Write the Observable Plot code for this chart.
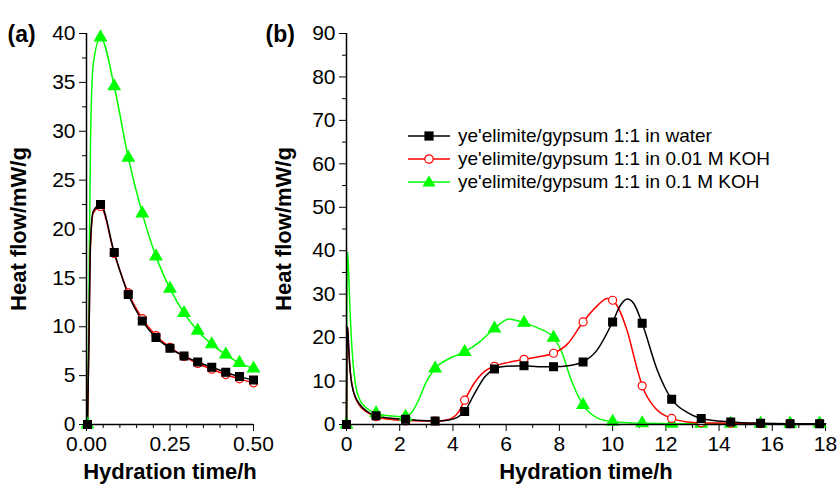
<!DOCTYPE html>
<html>
<head>
<meta charset="utf-8">
<script src="https://cdn.jsdelivr.net/npm/d3@7"></script>
<script src="https://cdn.jsdelivr.net/npm/@observablehq/plot@0.6"></script>
<style>
  html, body { margin: 0; padding: 0; background: #fff; }
  #wrap { position: relative; width: 837px; height: 492px; overflow: hidden; font-family: "Liberation Sans", Arial, sans-serif; }
  .panel { position: absolute; top: 0; }
  .panel svg { overflow: visible; }
  #legend { position: absolute; left: 408px; top: 124px; font-size: 19px; color: #000; }
  #legend .row { display: flex; align-items: center; height: 23.3px; white-space: nowrap; }
  #legend svg { overflow: visible; }
</style>
</head>
<body>
<div id="wrap">
  <div id="pa" class="panel" style="left:0px"></div>
  <div id="pb" class="panel" style="left:260px"></div>
  <div id="legend"></div>
</div>
<script>
// ---------- series names / colours ----------
const seriesNames = [
  "ye'elimite/gypsum 1:1 in water",
  "ye'elimite/gypsum 1:1 in 0.01 M KOH",
  "ye'elimite/gypsum 1:1 in 0.1 M KOH"
];
const seriesColors = ["#000000", "#ff0000", "#00ff00"];
const seriesSymbols = ["square", "circle", "triangle"];
const seriesFills = ["#000000", "#ffffff", "#00ff00"];

// ---------- panel (a): first 0.5 h ----------
const aMarkT   = [0.003, 0.042, 0.083, 0.125, 0.167, 0.208, 0.25, 0.292, 0.333, 0.375, 0.417, 0.458, 0.5];
const aWater   = [0, 22.5, 17.6, 13.3, 10.6, 8.9, 7.8, 7.0, 6.4, 5.85, 5.35, 4.9, 4.55];
const aKOH001  = [0, 22.3, 17.5, 13.47, 10.84, 9.1, 7.88, 6.96, 6.24, 5.66, 5.11, 4.67, 4.26];
const aKOH01   = [0, 39.6, 34.6, 27.3, 21.6, 17.2, 13.9, 11.4, 9.6, 8.2, 7.16, 6.3, 5.73];
// extra curve points read on the initial steep rise
const aRiseT       = [0.007, 0.012, 0.02];
const aRiseWater   = [8, 18.5, 21.8];
const aRiseKOH001  = [8, 18.5, 21.6];
const aRiseKOH01   = [12, 29, 36.8];

// ---------- panel (b): 0–18 h ----------
const bMarkT  = [0, 1.11, 2.22, 3.33, 4.44, 5.56, 6.67, 7.78, 8.89, 10.0, 11.11, 12.22, 13.33, 14.44, 15.56, 16.67, 17.78];
const bWater  = [0, 2.0, 1.2, 0.8, 3.0, 12.8, 13.5, 13.3, 14.4, 23.6, 23.3, 5.8, 1.4, 0.6, 0.3, 0.2, 0.2];
const bKOH001 = [0, 1.8, 0.8, 0.8, 5.6, 13.4, 15.0, 16.4, 23.6, 28.6, 8.9, 1.4, 0.4, 0.3, 0.2, 0.2, 0.2];
const bKOH01  = [0, 2.6, 1.8, 12.9, 16.7, 22.1, 23.4, 20.0, 4.5, 0.65, 0.3, 0.2, 0.2, 0.2, 0.2, 0.2, 0.2];

// curve points (read between markers)
const bWaterCurveT = [0, 0.012, 0.042, 0.083, 0.125, 0.167, 0.25, 0.33, 0.5, 0.75, 1.11, 1.6, 2.22, 2.8, 3.33, 3.8, 4.15, 4.44, 4.8, 5.2, 5.56, 6.0, 6.67, 7.2, 7.78, 8.4, 8.89, 9.4, 10.0, 10.3, 10.55, 10.8, 11.11, 11.68, 12.22, 12.8, 13.33, 14.44, 15.56, 16.67, 17.78, 18];
const bWaterCurve  = [0, 18.5, 22.5, 17.6, 13.3, 10.6, 7.8, 6.4, 4.6, 3.1, 2.0, 1.5, 1.2, 0.9, 0.8, 1.0, 1.6, 3.0, 7.0, 11.0, 12.8, 13.4, 13.5, 13.3, 13.3, 13.6, 14.4, 17.0, 23.6, 27.5, 28.9, 27.8, 23.3, 12.5, 5.8, 2.8, 1.4, 0.6, 0.3, 0.2, 0.2, 0.2];
const bKOH001CurveT = [0, 0.012, 0.042, 0.083, 0.125, 0.167, 0.25, 0.33, 0.5, 0.75, 1.11, 1.6, 2.22, 2.8, 3.33, 3.7, 4.0, 4.2, 4.44, 4.8, 5.2, 5.56, 6.1, 6.67, 7.2, 7.78, 8.3, 8.89, 9.4, 9.8, 10.0, 10.55, 10.9, 11.11, 11.6, 12.22, 12.8, 13.33, 14.44, 15.56, 16.67, 17.78, 18];
const bKOH001Curve  = [0, 18.5, 22.3, 17.5, 13.5, 10.8, 7.9, 6.2, 4.3, 2.9, 1.8, 1.2, 0.9, 0.8, 0.8, 1.0, 1.6, 2.8, 5.6, 9.5, 12.3, 13.4, 14.3, 15.0, 15.6, 16.4, 18.5, 23.6, 27.2, 29.0, 28.6, 21.5, 13.3, 8.9, 3.8, 1.4, 0.6, 0.4, 0.3, 0.2, 0.2, 0.2, 0.2];
const bKOH01CurveT = [0, 0.007, 0.012, 0.02, 0.042, 0.083, 0.125, 0.167, 0.25, 0.33, 0.5, 0.75, 1.11, 1.6, 2.22, 2.45, 2.7, 3.0, 3.33, 3.9, 4.44, 5.0, 5.56, 6.1, 6.67, 7.2, 7.78, 8.1, 8.4, 8.89, 9.4, 10.0, 11.11, 12.22, 13.33, 14.44, 15.56, 16.67, 17.78, 18];
const bKOH01Curve  = [0, 12, 29, 36.8, 39.6, 34.6, 27.3, 21.6, 13.9, 9.6, 5.7, 3.8, 2.6, 2.0, 1.8, 2.8, 5.5, 9.8, 12.9, 15.3, 16.7, 19.0, 22.1, 24.3, 23.4, 22.2, 20.0, 16.5, 11.0, 4.5, 1.6, 0.65, 0.3, 0.2, 0.2, 0.2, 0.2, 0.2, 0.2, 0.2];

// ---------- axis ticks ----------
const aYTicks = d3.range(0, 41, 5);
const aYMinor = d3.range(2.5, 40, 5);
const aXTicks = [0, 0.25, 0.5];
const aXMinor = [0.05, 0.1, 0.15, 0.2, 0.3, 0.35, 0.4, 0.45];
const bYTicks = d3.range(0, 91, 10);
const bYMinor = d3.range(5, 90, 10);
const bXTicks = d3.range(0, 19, 2);
const bXMinor = d3.range(1, 18, 2);

const yTitle = "Heat flow/mW/g";
const xTitle = "Hydration time/h";

// ---------- build tables ----------
function zipSeries(ts, ys, s) { return ts.map((t, i) => ({t, v: ys[i], s})); }

const aMarks = [
  ...zipSeries(aMarkT, aWater, 0),
  ...zipSeries(aMarkT, aKOH001, 1),
  ...zipSeries(aMarkT, aKOH01, 2)
];
const aLines = [
  ...zipSeries(aMarkT, aWater, 0), ...zipSeries(aRiseT, aRiseWater, 0),
  ...zipSeries(aMarkT, aKOH001, 1), ...zipSeries(aRiseT, aRiseKOH001, 1),
  ...zipSeries(aMarkT, aKOH01, 2), ...zipSeries(aRiseT, aRiseKOH01, 2)
].sort((p, q) => p.s - q.s || p.t - q.t);

const bMarks = [
  ...zipSeries(bMarkT, bWater, 0),
  ...zipSeries(bMarkT, bKOH001, 1),
  ...zipSeries(bMarkT, bKOH01, 2)
];
const bLines = [
  ...zipSeries(bWaterCurveT, bWaterCurve, 0),
  ...zipSeries(bKOH001CurveT, bKOH001Curve, 1),
  ...zipSeries(bKOH01CurveT, bKOH01Curve, 2)
];

const FONT = "'Liberation Sans', Arial, sans-serif";

function panel({width, marginLeft, xDomain, yDomain, xTicks, xMinor, yTicks, yMinor, xFmt, lines, marks, tag, yTitleDx}) {
  const drawOrder = [2, 1, 0];
  const seriesMarks = [];
  for (const s of drawOrder) {
    seriesMarks.push(Plot.line(lines.filter(d => d.s === s), {
      x: "t", y: "v", stroke: seriesColors[s], strokeWidth: 1.5, curve: "monotone-x"
    }));
  }
  for (const s of drawOrder) {
    seriesMarks.push(Plot.dot(marks.filter(d => d.s === s), {
      x: "t", y: "v", symbol: seriesSymbols[s],
      r: s === 1 ? 4 : 4.4,
      fill: seriesFills[s], stroke: seriesColors[s], strokeWidth: 1.2
    }));
  }
  return Plot.plot({
    width, height: 492,
    marginLeft, marginRight: 12, marginTop: 33, marginBottom: 68,
    x: {domain: xDomain},
    y: {domain: yDomain},
    style: {fontFamily: FONT, fontSize: "21px", color: "#000", background: "transparent", overflow: "visible"},
    marks: [
      Plot.axisY({ticks: yTicks, tickSize: 7, tickPadding: 4, label: null, tickFormat: d => String(d), fontSize: 21}),
      Plot.axisY({ticks: yMinor, tickSize: 4, label: null, tickFormat: () => ""}),
      Plot.axisX({ticks: xTicks, tickSize: 7, tickPadding: 5, label: null, tickFormat: xFmt, fontSize: 21}),
      Plot.axisX({ticks: xMinor, tickSize: 4, label: null, tickFormat: () => ""}),
      ...seriesMarks,
      Plot.ruleX([xDomain[0]], {stroke: "#000", strokeWidth: 1.5}),
      Plot.ruleY([yDomain[0]], {stroke: "#000", strokeWidth: 1.5}),
      Plot.text([yTitle], {frameAnchor: "left", textAnchor: "middle", rotate: -90, dx: yTitleDx, fontSize: 22, fontWeight: "bold", fill: "#000"}),
      Plot.text([xTitle], {frameAnchor: "bottom", textAnchor: "middle", dy: 54, fontSize: 22, fontWeight: "bold", fill: "#000"}),
      Plot.text([tag], {frameAnchor: "top-left", dx: -marginLeft + (tag === "(a)" ? 7 : 5), dy: -8, fontSize: 23, fontWeight: "bold", fill: "#000", textAnchor: "start"})
    ]
  });
}

document.getElementById("pa").appendChild(panel({
  width: 265, marginLeft: 86,
  xDomain: [0, 0.5], yDomain: [0, 40],
  xTicks: aXTicks, xMinor: aXMinor, yTicks: aYTicks, yMinor: aYMinor,
  xFmt: d3.format(".2f"), lines: aLines, marks: aMarks, tag: "(a)", yTitleDx: -68
}));

document.getElementById("pb").appendChild(panel({
  width: 577, marginLeft: 86,
  xDomain: [0, 18], yDomain: [0, 90],
  xTicks: bXTicks, xMinor: bXMinor, yTicks: bYTicks, yMinor: bYMinor,
  xFmt: d => String(d), lines: bLines, marks: bMarks, tag: "(b)", yTitleDx: -63
}));

// ---------- legend ----------
const legend = document.getElementById("legend");
seriesNames.forEach((name, i) => {
  const row = document.createElement("div");
  row.className = "row";
  const ns = "http://www.w3.org/2000/svg";
  const sw = document.createElementNS(ns, "svg");
  sw.setAttribute("width", "50"); sw.setAttribute("height", "16");
  const ln = document.createElementNS(ns, "line");
  ln.setAttribute("x1", "0"); ln.setAttribute("x2", "42"); ln.setAttribute("y1", "8"); ln.setAttribute("y2", "8");
  ln.setAttribute("stroke", seriesColors[i]); ln.setAttribute("stroke-width", "1.5");
  sw.appendChild(ln);
  let m;
  if (seriesSymbols[i] === "square") {
    m = document.createElementNS(ns, "rect");
    m.setAttribute("x", "17"); m.setAttribute("y", "4"); m.setAttribute("width", "8"); m.setAttribute("height", "8");
  } else if (seriesSymbols[i] === "circle") {
    m = document.createElementNS(ns, "circle");
    m.setAttribute("cx", "21"); m.setAttribute("cy", "8"); m.setAttribute("r", "4.2");
  } else {
    m = document.createElementNS(ns, "path");
    m.setAttribute("d", "M21,2.5 L26.5,12 L15.5,12 Z");
  }
  m.setAttribute("fill", seriesFills[i]); m.setAttribute("stroke", seriesColors[i]); m.setAttribute("stroke-width", "1.2");
  sw.appendChild(m);
  row.appendChild(sw);
  const tx = document.createElement("span");
  tx.textContent = name;
  row.appendChild(tx);
  legend.appendChild(row);
});
</script>
</body>
</html>
